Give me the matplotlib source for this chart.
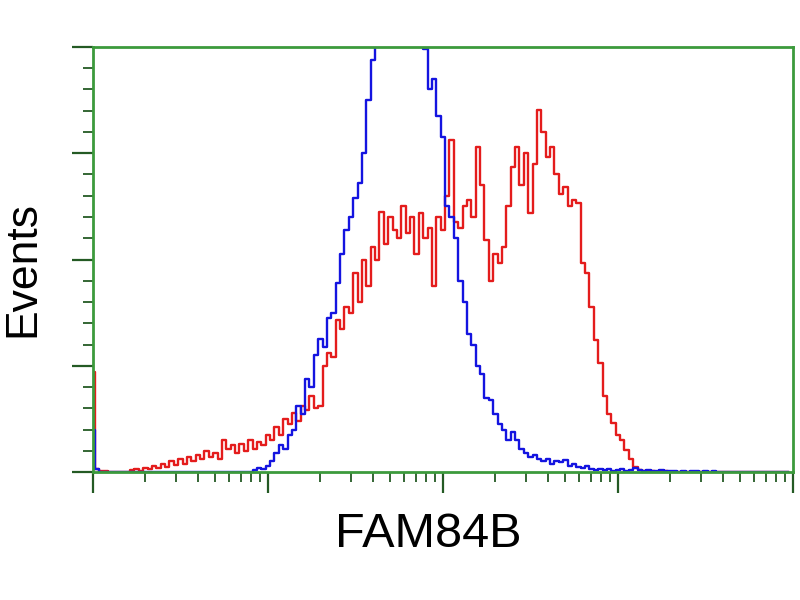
import matplotlib.pyplot as plt
import numpy as np
from matplotlib.ticker import MultipleLocator, LogLocator, NullFormatter

# 160 log-spaced channels over 4 decades (40 per decade)
n_channels = 160
channels_per_decade = 40

# control (blue) histogram counts, channel 0..159
blue_counts = [
    40, 3, 0, 0, 0, 0, 0, 0, 0, 0, 0, 0, 0, 0, 0, 0, 0, 0, 0, 0,
    0, 0, 0, 0, 0, 0, 0, 0, 0, 0, 0, 0, 0, 0, 0, 0, 0, 2, 4, 3,
    6, 10, 18, 25, 22, 35, 40, 62, 55, 88, 80, 110, 125, 118, 145, 150, 178, 205, 228, 240,
    258, 272, 300, 350, 388, 410, 430, 445, 450, 455, 450, 445, 440, 450, 430, 420, 398, 360, 370, 335,
    315, 250, 240, 220, 180, 160, 130, 120, 100, 92, 70, 68, 55, 45, 40, 30, 38, 30, 22, 18,
    14, 16, 12, 10, 12, 8, 10, 9, 11, 6, 8, 5, 4, 6, 3, 2, 3, 2, 3, 1,
    2, 3, 1, 2, 4, 2, 1, 2, 1, 1, 2, 1, 1, 1, 0, 1, 0, 1, 1, 0,
    1, 0, 1, 0, 0, 0, 0, 0, 0, 0, 0, 0, 0, 0, 0, 0, 0, 0, 0, 0,
]

# FAM84B stained (red) histogram counts, channel 0..159
red_counts = [
    94, 3, 1, 1, 0, 0, 0, 0, 0, 2, 3, 1, 4, 3, 6, 4, 8, 5, 10, 7,
    12, 8, 14, 10, 16, 12, 20, 14, 18, 12, 30, 22, 25, 18, 26, 20, 30, 22, 28, 25,
    35, 30, 42, 35, 50, 45, 56, 48, 62, 58, 72, 60, 62, 100, 112, 108, 143, 135, 155, 150,
    187, 160, 200, 175, 212, 200, 245, 215, 240, 228, 220, 250, 225, 240, 205, 244, 220, 230, 175, 240,
    228, 260, 312, 235, 230, 250, 256, 240, 306, 270, 218, 180, 205, 197, 212, 250, 287, 306, 270, 300,
    244, 290, 341, 320, 296, 306, 280, 262, 268, 250, 256, 253, 197, 187, 155, 124, 103, 72, 55, 46,
    35, 30, 21, 12, 5, 2, 1, 0, 1, 0, 0, 1, 0, 0, 0, 0, 0, 0, 0, 0,
    0, 0, 0, 0, 0, 0, 0, 0, 0, 0, 0, 0, 0, 0, 0, 0, 0, 0, 0, 0,
]

x_label = 'FAM84B'
y_label = 'Events'

green = '#3c9a3c'
tick_col = '#245a24'

fig = plt.figure(figsize=(8, 6), dpi=100)
ax = fig.add_axes([0.116, 0.2133, 0.875, 0.7084])

x = 10 ** (np.arange(n_channels) / channels_per_decade)
ax.plot(x, red_counts, drawstyle='steps-mid', color='#e41c1c', lw=1.7)
ax.plot(x, blue_counts, drawstyle='steps-mid', color='#1414e0', lw=1.7)

ax.set_xscale('log')
ax.set_xlim(1, 1e4)
ax.set_ylim(0, 400)

ax.xaxis.set_major_locator(LogLocator(base=10, numticks=10))
ax.xaxis.set_minor_locator(LogLocator(base=10, subs=np.arange(2, 10), numticks=10))
ax.yaxis.set_major_locator(MultipleLocator(100))
ax.yaxis.set_minor_locator(MultipleLocator(20))
for axis in (ax.xaxis, ax.yaxis):
    axis.set_major_formatter(NullFormatter())
    axis.set_minor_formatter(NullFormatter())

ax.tick_params(which='major', direction='out', length=15, width=1.6, color=tick_col)
ax.tick_params(which='minor', direction='out', length=7, width=1.3, color=tick_col)

for s in ax.spines.values():
    s.set_color(green)
    s.set_linewidth(2)

xl = ax.set_xlabel(x_label, fontsize=35, family='Liberation Sans', va='center')
ax.xaxis.set_label_coords(0.479, -0.148)
yl = ax.set_ylabel(y_label, fontsize=32, family='Liberation Sans', va='center')
ax.yaxis.set_label_coords(-0.1, 0.478)

fig.savefig('out.png', dpi=100)
